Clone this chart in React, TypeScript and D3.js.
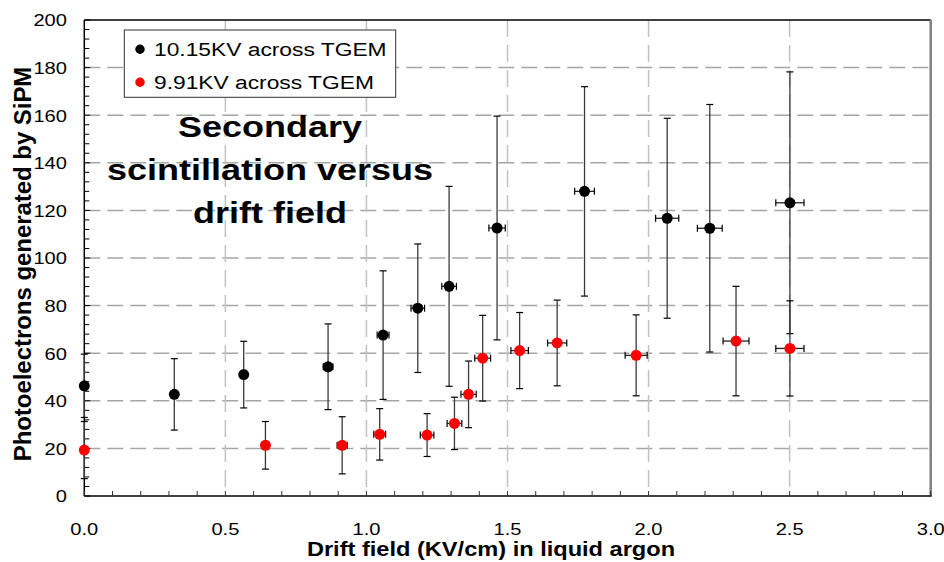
import React from "react";
import * as d3 from "d3";

// ---- data ----
const blackX = [0, 0.319, 0.565, 0.864, 1.059, 1.182, 1.293, 1.463, 1.773, 2.066, 2.217, 2.501];
const blackY = [46.3, 42.7, 51.0, 54.3, 67.6, 78.9, 88.1, 112.6, 128.0, 116.7, 112.5, 123.2];
const blackYErr = [13.3, 15, 14, 18, 27, 27, 42, 47, 44, 42, 52, 55];
const blackXErr = [0, 0.006, 0.011, 0.017, 0.021, 0.024, 0.026, 0.029, 0.035, 0.041, 0.044, 0.05];

const redX = [0, 0.642, 0.914, 1.047, 1.215, 1.312, 1.362, 1.412, 1.543, 1.676, 1.956, 2.31, 2.501];
const redY = [19.3, 21.3, 21.3, 25.9, 25.6, 30.5, 42.7, 57.9, 61.1, 64.3, 59.1, 65.1, 62.0];
const redYErr = [12, 10, 12, 10.8, 9, 11, 14, 18, 16, 18, 17, 23, 20];
const redXErr = [0, 0.013, 0.018, 0.021, 0.024, 0.026, 0.027, 0.028, 0.031, 0.034, 0.039, 0.046, 0.05];

const seriesNames = ["10.15KV across TGEM", "9.91KV across TGEM"];
const seriesColors = ["#000000", "#ff0000"];
const xTicks = [0, 0.5, 1.0, 1.5, 2.0, 2.5, 3.0];
const yTicks = [0, 20, 40, 60, 80, 100, 120, 140, 160, 180, 200];
const titleLines = ["Secondary", "scintillation versus", "drift field"];
const xTitle = "Drift field (KV/cm) in liquid argon";
const yTitle = "Photoelectrons generated by SiPM";

const W = 944, H = 562;
const L = 84.3, R = 930.7, T = 20, B = 496;
const FONT = "'Liberation Sans', Arial, sans-serif";

function Txt({ x, y, size, weight = "normal", anchor = "start", sx = 1, rotate = 0, fill = "#000", children }: any) {
  return (
    <g transform={`translate(${x},${y}) rotate(${rotate}) scale(${sx},1)`}>
      <text fontFamily={FONT} fontSize={size} fontWeight={weight} textAnchor={anchor} fill={fill}>
        {children}
      </text>
    </g>
  );
}

export default function App() {
  const x = d3.scaleLinear().domain([0, 3]).range([L, R]);
  const y = d3.scaleLinear().domain([0, 200]).range([B, T]);

  const xMinor = d3.range(0, 3.0001, 0.1);
  const yMinor = d3.range(0, 200.0001, 4);

  const series = [
    { xs: blackX, ys: blackY, ye: blackYErr, xe: blackXErr, color: seriesColors[0] },
    { xs: redX, ys: redY, ye: redYErr, xe: redXErr, color: seriesColors[1] },
  ];
  const cap = 3.5;

  return (
    <svg width={W} height={H} style={{ position: "absolute", left: 0, top: 0, background: "#fff" }}>
      <rect x={0} y={0} width={W} height={H} fill="#fff" />
      {/* gridlines */}
      {yTicks.filter((v) => v > 0 && v < 200).map((v) => (
        <line key={"gy" + v} x1={L} x2={R} y1={y(v)} y2={y(v)} stroke="#a6a6a6" strokeWidth={1.5} strokeDasharray="16 7" />
      ))}
      {xTicks.filter((v) => v > 0 && v < 3).map((v) => (
        <line key={"gx" + v} x1={x(v)} x2={x(v)} y1={T} y2={B} stroke="#c2c2c2" strokeWidth={1.5} strokeDasharray="17 8" />
      ))}

      {/* frame */}
      <line x1={L} x2={R} y1={T} y2={T} stroke="#000" strokeWidth={1.5} />
      <line x1={R} x2={R} y1={T} y2={B} stroke="#808080" strokeWidth={2.5} />
      <line x1={L} x2={R + 1} y1={B} y2={B} stroke="#404040" strokeWidth={2} />
      <line x1={L} x2={L} y1={T} y2={B} stroke="#000" strokeWidth={1.5} />

      {/* ticks */}
      {yMinor.map((v) => (
        <line key={"ty" + v} x1={L} x2={L + (v % 20 === 0 ? 6 : 5)} y1={y(v)} y2={y(v)} stroke="#000" strokeWidth={1} />
      ))}
      {xMinor.map((v, i) => (
        <line key={"tx" + i} x1={x(v)} x2={x(v)} y1={B} y2={B - 5} stroke="#333" strokeWidth={1} />
      ))}

      {/* tick labels */}
      {yTicks.map((v) => (
        <Txt key={"ly" + v} x={67} y={y(v) + 6.3} size={16.5} anchor="end" sx={1.22}>
          {String(v)}
        </Txt>
      ))}
      {xTicks.map((v) => (
        <Txt key={"lx" + v} x={x(v)} y={535} size={16.5} anchor="middle" sx={1.22}>
          {v.toFixed(1)}
        </Txt>
      ))}

      {/* axis titles */}
      <Txt x={491} y={556} size={20} weight="bold" anchor="middle" sx={1.18}>
        {xTitle}
      </Txt>
      <Txt x={31} y={264} size={23} weight="bold" anchor="middle" rotate={-90} sx={1.04}>
        {yTitle}
      </Txt>

      {/* chart title */}
      {titleLines.map((t, i) => (
        <Txt key={"t" + i} x={270} y={137.3 + i * 42.7} size={30} weight="bold" anchor="middle" sx={1.2}>
          {t}
        </Txt>
      ))}

      {/* data */}
      {series.map((s, si) => (
        <g key={"s" + si}>
          {s.xs.map((xv, i) => {
            const cx = x(xv), cy = y(s.ys[i]);
            const y1 = y(s.ys[i] + s.ye[i]), y2 = y(s.ys[i] - s.ye[i]);
            const x1 = x(xv - s.xe[i]), x2 = x(xv + s.xe[i]);
            return (
              <g key={"e" + i}>
                <line x1={cx} x2={cx} y1={y1} y2={y2} stroke="#3a3a3a" strokeWidth={1.3} />
                <line x1={cx - cap} x2={cx + cap} y1={y1} y2={y1} stroke="#000" strokeWidth={1.2} />
                <line x1={cx - cap} x2={cx + cap} y1={y2} y2={y2} stroke="#000" strokeWidth={1.2} />
                {s.xe[i] > 0 && (
                  <g>
                    <line x1={x1} x2={x2} y1={cy} y2={cy} stroke="#222" strokeWidth={1.3} />
                    <line x1={x1} x2={x1} y1={cy - cap} y2={cy + cap} stroke="#000" strokeWidth={1.2} />
                    <line x1={x2} x2={x2} y1={cy - cap} y2={cy + cap} stroke="#000" strokeWidth={1.2} />
                  </g>
                )}
              </g>
            );
          })}
          {s.xs.map((xv, i) => (
            <circle key={"m" + i} cx={x(xv)} cy={y(s.ys[i])} r={5.5} fill={s.color} />
          ))}
        </g>
      ))}

      {/* legend */}
      <rect x={124.3} y={30} width={271.4} height={67.3} fill="#fff" stroke="#333" strokeWidth={1} />
      {seriesNames.map((n, i) => (
        <g key={"lg" + i}>
          <circle cx={140} cy={49.3 + i * 33} r={4.7} fill={seriesColors[i]} />
          <Txt x={154} y={56 + i * 33.3} size={19} sx={1.2}>
            {n}
          </Txt>
        </g>
      ))}
    </svg>
  );
}
